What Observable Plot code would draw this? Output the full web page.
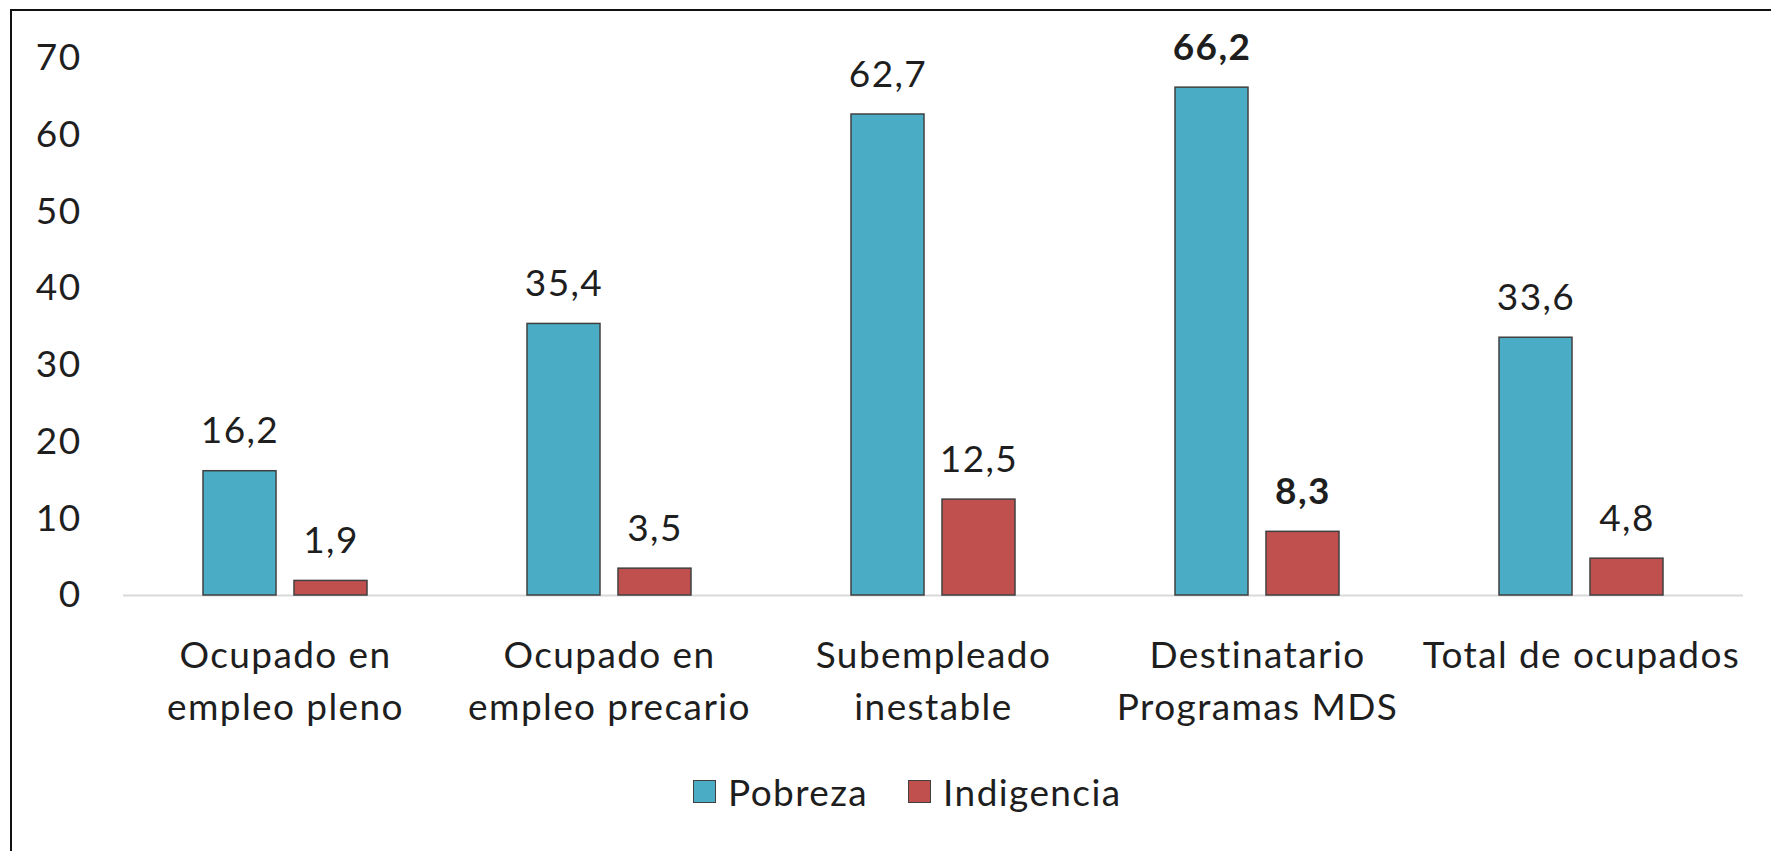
<!DOCTYPE html>
<html><head><meta charset="utf-8">
<script src="https://cdn.jsdelivr.net/npm/d3@7"></script>
<script src="https://cdn.jsdelivr.net/npm/@observablehq/plot@0.6"></script>
<style>
html,body{margin:0;padding:0;background:#fff;overflow:hidden;width:1771px;height:851px}
#frame{position:absolute;left:10px;top:9px;width:2000px;height:1000px;border-left:2.5px solid #111;border-top:2.5px solid #111}
#chart{position:absolute;left:0;top:0}
#legend{position:absolute;top:769px;left:693px;display:flex;align-items:center;font-family:Lato,"Open Sans",sans-serif;font-size:37px;letter-spacing:1.4px;color:#1e1e1e}
#legend .sw{width:23px;height:23px;border:1.5px solid #404040;box-sizing:border-box;margin-right:12px}
#legend .it{display:flex;align-items:center;margin-right:40px}
</style></head>
<body>
<div id="frame"></div>
<div id="chart"></div>
<div id="legend"></div>
<script>
const categories = ["Ocupado en\nempleo pleno", "Ocupado en\nempleo precario", "Subempleado\ninestable", "Destinatario\nProgramas MDS", "Total de ocupados"];
const series = ["Pobreza", "Indigencia"];
const pobreza = [16.2, 35.4, 62.7, 66.2, 33.6];
const indigencia = [1.9, 3.5, 12.5, 8.3, 4.8];
const boldCategories = ["Destinatario\nProgramas MDS"];
const yTicks = [0, 10, 20, 30, 40, 50, 60, 70];
const colors = ["#4BACC6", "#C0504D"];

const data = [];
categories.forEach((c, i) => {
  data.push({category: c, series: "Pobreza", value: pobreza[i]});
  data.push({category: c, series: "Indigencia", value: indigencia[i]});
});
const fmt = v => v.toFixed(1).replace(".", ",");
const normal = data.filter(d => !boldCategories.includes(d.category));
const bold = data.filter(d => boldCategories.includes(d.category));

const chart = Plot.plot({
  width: 1771,
  height: 740,
  marginLeft: 122,
  marginRight: 28,
  marginTop: 58,
  marginBottom: 145,
  style: {fontFamily: "Lato, 'Open Sans', sans-serif", fontSize: "37px", letterSpacing: "1.4px", color: "#1e1e1e", background: "transparent"},
  fx: {domain: categories, padding: 0, axis: null},
  x: {domain: series, paddingInner: 0.196, paddingOuter: 0.859, axis: null},
  y: {domain: [0, 70], ticks: yTicks, tickSize: 0, tickPadding: 42, label: null, tickFormat: d => String(d)},
  color: {domain: series, range: colors},
  marks: [
    Plot.ruleY([0], {stroke: "#d9d9d9", strokeWidth: 2}),
    Plot.barY(data, {fx: "category", x: "series", y: "value", fill: "series", stroke: "#404040", strokeWidth: 1.5}),
    Plot.text(normal, {fx: "category", x: "series", y: "value", text: d => fmt(d.value), lineAnchor: "bottom", dy: -28, fill: "#1e1e1e"}),
    Plot.text(bold, {fx: "category", x: "series", y: "value", text: d => fmt(d.value), lineAnchor: "bottom", dy: -28, fill: "#1e1e1e", fontWeight: "bold"}),
    Plot.text(categories, {fx: d => d, text: d => d, frameAnchor: "bottom", lineAnchor: "top", dy: 35, lineHeight: 1.42, fill: "#1e1e1e"})
  ]
});
document.getElementById("chart").appendChild(chart);

const legend = document.getElementById("legend");
series.forEach((s, i) => {
  const it = document.createElement("div");
  it.className = "it";
  const sw = document.createElement("div");
  sw.className = "sw";
  sw.style.background = colors[i];
  const tx = document.createElement("span");
  tx.textContent = s;
  it.appendChild(sw); it.appendChild(tx);
  legend.appendChild(it);
});
</script>
</body></html>
